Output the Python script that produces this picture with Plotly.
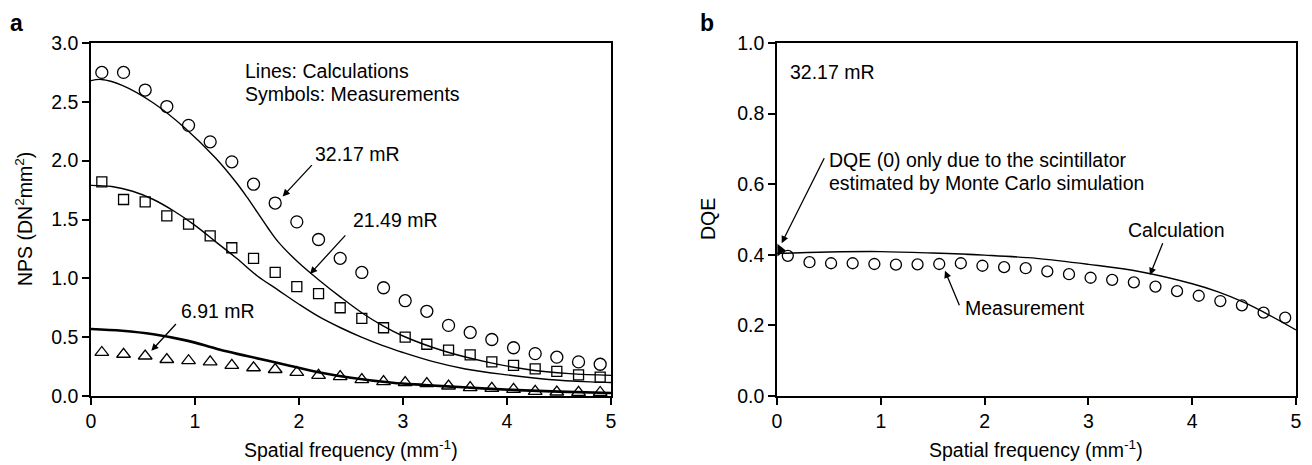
import plotly.graph_objects as go

# ---------------- data ----------------
freq = [0.104, 0.313, 0.521, 0.729, 0.938, 1.146, 1.354, 1.563, 1.771, 1.979, 2.188, 2.396,
        2.604, 2.813, 3.021, 3.229, 3.438, 3.646, 3.854, 4.063, 4.271, 4.479, 4.688, 4.896]

nps_32_meas = [2.75, 2.75, 2.60, 2.46, 2.30, 2.16, 1.99, 1.80, 1.64, 1.48, 1.33, 1.17,
               1.05, 0.92, 0.81, 0.72, 0.60, 0.54, 0.48, 0.41, 0.36, 0.33, 0.29, 0.27]
nps_21_meas = [1.82, 1.67, 1.65, 1.53, 1.46, 1.36, 1.26, 1.17, 1.05, 0.93, 0.87, 0.75,
               0.66, 0.58, 0.50, 0.44, 0.39, 0.35, 0.29, 0.26, 0.23, 0.21, 0.18, 0.16]
nps_7_meas = [0.37, 0.355, 0.34, 0.31, 0.30, 0.29, 0.26, 0.24, 0.225, 0.20, 0.175, 0.165,
              0.14, 0.122, 0.114, 0.105, 0.085, 0.071, 0.065, 0.057, 0.04, 0.034, 0.031, 0.03]

calc32_x = [0, 0.1, 0.3, 0.6, 0.9, 1.2, 1.4, 1.5, 1.6, 1.7, 1.8, 2.0, 2.2, 2.4, 2.6, 2.8, 3.0,
            3.4, 3.8, 4.2, 4.6, 5.0]
calc32_y = [2.68, 2.69, 2.64, 2.49, 2.28, 2.02, 1.81, 1.69, 1.56, 1.43, 1.31, 1.13, 0.98, 0.84,
            0.71, 0.60, 0.51, 0.38, 0.29, 0.225, 0.19, 0.175]

calc21_x = [0, 0.2, 0.4, 0.6, 0.8, 1.0, 1.2, 1.4, 1.6, 1.8, 2.0, 2.2, 2.4, 2.6, 2.8, 3.0, 3.3, 3.6,
            4.0, 4.4, 4.8, 5.0]
calc21_y = [1.79, 1.78, 1.74, 1.67, 1.57, 1.45, 1.31, 1.17, 1.02, 0.90, 0.78, 0.67, 0.58, 0.50,
            0.43, 0.37, 0.29, 0.23, 0.18, 0.14, 0.12, 0.115]

calc7_x = [0, 0.3, 0.6, 0.9, 1.1, 1.25, 1.5, 1.9, 2.2, 2.5, 2.9, 3.2, 3.5, 3.8, 4.1, 4.5, 5.0]
calc7_y = [0.57, 0.555, 0.525, 0.475, 0.43, 0.39, 0.34, 0.26, 0.20, 0.155, 0.112, 0.094, 0.078,
           0.063, 0.05, 0.037, 0.026]

dqe_meas = [0.397, 0.379, 0.376, 0.376, 0.374, 0.372, 0.373, 0.374, 0.376, 0.369, 0.365, 0.362,
            0.353, 0.345, 0.335, 0.329, 0.322, 0.31, 0.297, 0.284, 0.269, 0.257, 0.236, 0.222]
dqe_calc_x = [0, 0.5, 1.0, 1.5, 2.0, 2.5, 3.0, 3.5, 4.0, 4.25, 4.5, 4.75, 5.0]
dqe_calc_y = [0.404, 0.408, 0.409, 0.405, 0.399, 0.39, 0.373, 0.352, 0.318, 0.295, 0.265, 0.228, 0.187]
dqe0_x = [0.03]
dqe0_y = [0.413]

x_ticks = [0, 1, 2, 3, 4, 5]
nps_ticks = [0.0, 0.5, 1.0, 1.5, 2.0, 2.5, 3.0]
dqe_ticks = [0.0, 0.2, 0.4, 0.6, 0.8, 1.0]

# ---------------- figure ----------------
FONT = "Liberation Sans, Arial, sans-serif"
FS = 19.5
OFF = 8                      # page body margin of the html page
W, H = 1312 - OFF, 465 - OFF


def px_x(px):
    return (px - OFF) / W


def px_y(py):
    return 1 - (py - OFF) / H


fig = go.Figure()

line = dict(color="black", width=1.4)
fig.add_trace(go.Scatter(x=calc32_x, y=calc32_y, mode="lines", line=dict(line, shape="spline"),
                         xaxis="x", yaxis="y", showlegend=False))
fig.add_trace(go.Scatter(x=calc21_x, y=calc21_y, mode="lines", line=dict(line, shape="spline"),
                         xaxis="x", yaxis="y", showlegend=False))
fig.add_trace(go.Scatter(x=calc7_x, y=calc7_y, mode="lines",
                         line=dict(color="black", width=2.6, shape="spline"),
                         xaxis="x", yaxis="y", showlegend=False))

mk_line = dict(color="black", width=1.3)
fig.add_trace(go.Scatter(x=freq, y=nps_32_meas, mode="markers",
                         marker=dict(symbol="circle-open", size=12, color="black", line=mk_line),
                         xaxis="x", yaxis="y", showlegend=False))
fig.add_trace(go.Scatter(x=freq, y=nps_21_meas, mode="markers",
                         marker=dict(symbol="square-open", size=10, color="black", line=mk_line),
                         xaxis="x", yaxis="y", showlegend=False))
fig.add_trace(go.Scatter(x=freq, y=nps_7_meas, mode="markers",
                         marker=dict(symbol="triangle-up-open", size=12, color="black", line=mk_line),
                         xaxis="x", yaxis="y", showlegend=False))

fig.add_trace(go.Scatter(x=dqe_calc_x, y=dqe_calc_y, mode="lines", line=dict(line, shape="spline"),
                         xaxis="x2", yaxis="y2", showlegend=False))
fig.add_trace(go.Scatter(x=freq, y=dqe_meas, mode="markers",
                         marker=dict(symbol="circle-open", size=11, color="black", line=mk_line),
                         xaxis="x2", yaxis="y2", showlegend=False))
fig.add_trace(go.Scatter(x=dqe0_x, y=dqe0_y, mode="markers", cliponaxis=False,
                         marker=dict(symbol="triangle-right", size=11, color="black"),
                         xaxis="x2", yaxis="y2", showlegend=False))

y_dom = [px_y(396), px_y(43)]
axis_common = dict(showline=True, linecolor="black", linewidth=1.5, mirror=True,
                   ticks="outside", ticklen=7, tickwidth=1.5, tickcolor="black",
                   showgrid=False, zeroline=False, automargin=False,
                   tickfont=dict(family=FONT, size=FS, color="black"))

fig.update_layout(
    width=W, height=H,
    margin=dict(l=0, r=0, t=0, b=0, autoexpand=False),
    paper_bgcolor="white", plot_bgcolor="white",
    font=dict(family=FONT, size=FS, color="black"),
    xaxis=dict(axis_common, domain=[px_x(91), px_x(611)], range=[0, 5], tickvals=x_ticks, anchor="y"),
    yaxis=dict(axis_common, domain=y_dom, range=[0, 3.0], tickvals=nps_ticks, tickformat=".1f",
               anchor="x"),
    xaxis2=dict(axis_common, domain=[px_x(777), px_x(1296)], range=[0, 5], tickvals=x_ticks,
                anchor="y2"),
    yaxis2=dict(axis_common, domain=y_dom, range=[0, 1.0], tickvals=dqe_ticks, tickformat=".1f",
                anchor="x2"),
)


def ptext(text, px, py, angle=0, size=FS, anchor="center", yanchor="middle"):
    fig.add_annotation(text=text, x=px_x(px), y=px_y(py), xref="paper", yref="paper",
                       xanchor=anchor, yanchor=yanchor, showarrow=False, textangle=angle,
                       font=dict(family=FONT, size=size, color="black"))


# axis titles
ptext("Spatial frequency (mm<sup>-1</sup>)", 351, 449)
ptext("Spatial frequency (mm<sup>-1</sup>)", 1036, 449)
ptext("NPS (DN<sup>2</sup>mm<sup>2</sup>)", 24, 219, angle=-90)
ptext("DQE", 708, 219, angle=-90)

# panel letters
ptext("<b>a</b>", 16, 8, size=23, yanchor="top")
ptext("<b>b</b>", 707, 8, size=23, yanchor="top")


def label(text, x, y, xref="x", yref="y"):
    fig.add_annotation(text=text, x=x, y=y, xref=xref, yref=yref, xanchor="left",
                       yanchor="middle", showarrow=False,
                       font=dict(family=FONT, size=FS, color="black"))


def arrow(x_tip, y_tip, x_tail, y_tail, xref="x", yref="y"):
    fig.add_annotation(x=x_tip, y=y_tip, ax=x_tail, ay=y_tail, xref=xref, yref=yref,
                       axref=xref, ayref=yref, text="", showarrow=True,
                       arrowhead=2, arrowsize=1.1, arrowwidth=1.3, arrowcolor="black",
                       standoff=0, startstandoff=0)


# left panel texts
label("Lines: Calculations", 1.46, 2.761)
label("Symbols: Measurements", 1.46, 2.565)
label("32.17 mR", 2.13, 2.054)
label("21.49 mR", 2.50, 1.492)
label("6.91 mR", 0.85, 0.724)
arrow(1.843, 1.696, 2.137, 1.975)
arrow(2.106, 1.037, 2.459, 1.378)
arrow(0.580, 0.384, 0.830, 0.625)

# right panel texts
label("32.17 mR", 0.11, 0.919, "x2", "y2")
label("DQE (0) only due to the scintillator", 0.48, 0.669, "x2", "y2")
label("estimated by Monte Carlo simulation", 0.48, 0.603, "x2", "y2")
label("Calculation", 3.36, 0.470, "x2", "y2")
label("Measurement", 1.79, 0.248, "x2", "y2")
arrow(0.045, 0.433, 0.462, 0.678, "x2", "y2")
arrow(3.593, 0.343, 3.722, 0.437, "x2", "y2")
arrow(1.618, 0.355, 1.763, 0.253, "x2", "y2")

fig.write_html("out.html")
